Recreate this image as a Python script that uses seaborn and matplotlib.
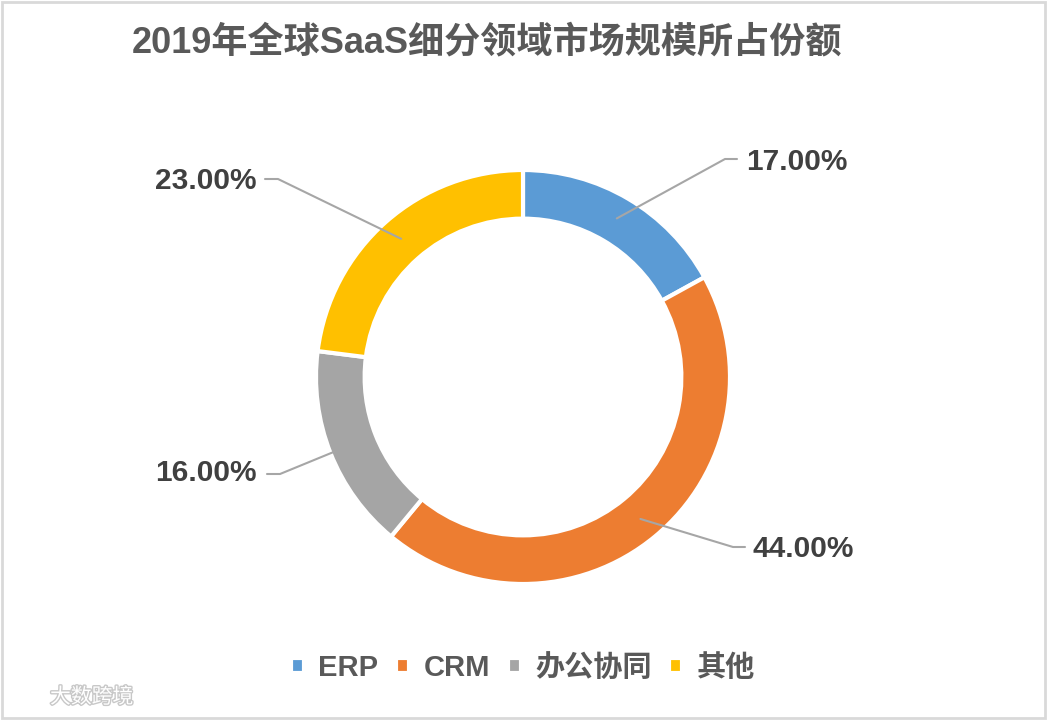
import numpy as np
import matplotlib
matplotlib.use("Agg")
import matplotlib.pyplot as plt
import matplotlib.patheffects as pe
from matplotlib.patches import Rectangle
import seaborn as sns

categories = ['ERP', 'CRM', '办公协同', '其他']
shares = [17.0, 44.0, 16.0, 23.0]
colors = ['#5B9BD5', '#ED7D31', '#A5A5A5', '#FFC000']
title = '2019年全球SaaS细分领域市场规模所占份额'

sns.set_theme(style="white")
plt.rcParams['font.family'] = ['Liberation Sans', 'Noto Sans CJK SC', 'DejaVu Sans']

W, H = 1047, 720
R = 207.0           # outer radius in px
cx, cy = 523, 377   # donut centre in px (from top-left)

fig = plt.figure(figsize=(W / 100, H / 100), dpi=100)
ax = fig.add_axes([0, 0, 1, 1])

wedges, _ = ax.pie(shares, colors=colors, startangle=90, counterclock=False,
                   radius=1.0, center=(0, 0), frame=False,
                   wedgeprops=dict(width=0.235, edgecolor='white', linewidth=3))
ax.set_xlim(-cx / R, (W - cx) / R)
ax.set_ylim(-(H - cy) / R, cy / R)
ax.set_aspect('equal')
ax.axis('off')


def px(x, y):
    return ((x - cx) / R, (cy - y) / R)


# label layout: anchor radius, elbow, line end, text pos (px), alignment
layout = [
    (0.89, (725, 159), (737, 159), (746, 162), 'left'),
    (0.89, (733, 547), (745, 547), (752, 549), 'left'),
    (0.98, (280, 474), (267, 474), (257, 473), 'right'),
    (0.89, (278, 179), (265, 179), (256, 181), 'right'),
]

for w, val, (ra, elbow, end, tpos, ha) in zip(wedges, shares, layout):
    mid = np.deg2rad((w.theta1 + w.theta2) / 2)
    ax0, ay0 = ra * np.cos(mid), ra * np.sin(mid)
    ex, ey = px(*elbow)
    lx, ly = px(*end)
    ax.plot([ax0, ex, lx], [ay0, ey, ly], color='#A6A6A6', lw=1.5,
            solid_capstyle='round', zorder=5)
    tx, ty = px(*tpos)
    ax.text(tx, ty, f'{val:.2f}%', ha=ha, va='center', fontsize=21.5,
            color='#404040', fontweight='bold')

fig.text(487 / W, 1 - 43 / H, title, ha='center', va='center',
         fontsize=26, color='#595959', fontweight='bold')

leg = fig.legend(wedges, categories, loc='center', bbox_to_anchor=(523 / W, 1 - 668 / H),
                 ncol=4, frameon=False, fontsize=21, handlelength=0.45, handleheight=0.45,
                 handletextpad=0.5, columnspacing=0.6, borderaxespad=0)
for t in leg.get_texts():
    t.set_color('#595959')
    t.set_fontweight('bold')

# watermark
fig.text(50 / W, 1 - 697 / H, '大数跨境', ha='left', va='center', fontsize=15,
         color='white', path_effects=[pe.withStroke(linewidth=2, foreground='#C8C8C8')])

fig.patches.append(Rectangle((2 / W, 2 / H), 1 - 4 / W, 1 - 4 / H, transform=fig.transFigure,
                             fill=False, edgecolor='#D9D9D9', linewidth=2))

fig.savefig('out.png', dpi=100, facecolor='white')
